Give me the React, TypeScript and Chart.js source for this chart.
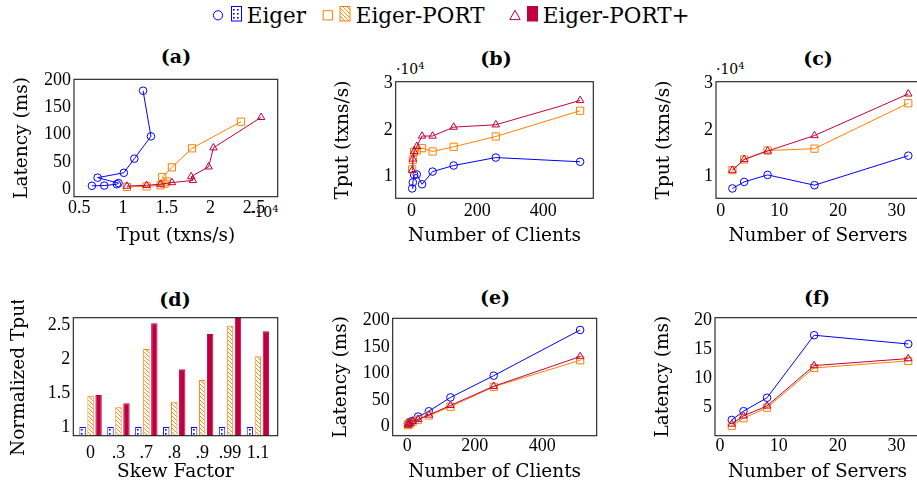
import React, { useEffect, useRef } from 'react';
import { Chart, registerables } from 'chart.js';
Chart.register(...registerables);

const FONT = '"Liberation Serif", "DejaVu Serif", serif';
const TFONT = '"DejaVu Serif", "Liberation Serif", serif';
const BLUE = '#0000ff';
const ORANGE = '#ff8000';
const PURPLE = '#bf0040';

// ---------- data ----------
const seriesNames = ['Eiger', 'Eiger-PORT', 'Eiger-PORT+'];
const clients = [2, 4, 8, 16, 32, 64, 128, 256, 512];
const servers = [2, 4, 8, 16, 32];
const skewFactors = ['0', '.3', '.7', '.8', '.9', '.99', '1.1'];

// (a) throughput (txns/s) vs latency (ms), one point per client count
const aEigerTput = [6450, 7860, 9300, 9500, 7100, 10100, 11300, 13200, 12300];
const aEigerLat = [6, 6.5, 9, 11, 21, 30, 56, 97, 181];
const aPortTput = [10450, 12700, 14300, 14750, 15000, 14500, 15600, 17900, 23500];
const aPortLat = [4, 5, 7, 10, 14, 22, 40, 75, 124];
const aPlusTput = [10450, 12700, 14300, 15600, 18000, 17800, 19800, 20350, 25800];
const aPlusLat = [5.5, 7, 9, 12, 16, 23, 41, 76, 132];

// (b) throughput vs number of clients
const bEiger = [7500, 8800, 10400, 10500, 8400, 11100, 12400, 14100, 13200];
const bPort = [11600, 13600, 15300, 15600, 16100, 15400, 16400, 18600, 24100];
const bPlus = [11400, 13800, 15400, 16500, 18700, 18700, 20600, 21100, 26300];

// (c) throughput vs number of servers
const cEiger = [7500, 8900, 10400, 8200, 14500];
const cPort = [11400, 13700, 15600, 16000, 25700];
const cPlus = [11400, 13700, 15500, 18800, 27700];

// (d) normalized throughput vs skew factor
const dEiger = [1, 1, 1, 1, 1, 1, 1];
const dPort = [1.46, 1.29, 2.15, 1.37, 1.69, 2.49, 2.04];
const dPlus = [1.47, 1.35, 2.53, 1.85, 2.37, 2.62, 2.41];

// (e) latency vs number of clients
const eEiger = [6, 6.5, 9, 11, 19, 29, 55, 96, 182];
const ePort = [3, 4, 6, 9, 13, 21, 37.5, 75, 125];
const ePlus = [3.5, 5, 7, 10, 14, 22, 40, 76, 132];

// (f) latency vs number of servers
const fEiger = [2.9, 4.4, 6.7, 17.4, 15.9];
const fPort = [1.9, 3.2, 5.0, 11.8, 13.0];
const fPlus = [2.2, 3.6, 5.3, 12.2, 13.4];

// ticks
const aXTicks = [5000, 10000, 15000, 20000, 25000];
const latTicks = [0, 50, 100, 150, 200];
const tputTicks = [10000, 20000, 30000];
const clientTicks = [0, 200, 400];
const serverTicks = [0, 10, 20, 30];
const normTicks = [1, 1.5, 2, 2.5];
const skewTicks = [0, 1, 2, 3, 4, 5, 6];
const fLatTicks = [5, 10, 15, 20];

// ---------- helpers ----------
const boxPlugin = {
  id: 'plotBox',
  afterDraw(chart: any) {
    const { ctx, chartArea: a } = chart;
    ctx.save();
    ctx.strokeStyle = '#1a1a1a';
    ctx.lineWidth = 1.1;
    ctx.strokeRect(a.left, a.top, a.right - a.left, a.bottom - a.top);
    ctx.restore();
  },
};

const per4 = (v: number) => String(Math.round((v / 10000) * 100) / 100);
const plain = (v: number) => String(v);

function axis(o: any) {
  return {
    type: 'linear',
    min: o.min,
    max: o.max,
    offset: false,
    grid: { display: false, drawTicks: false, offset: false },
    border: { display: false },
    ticks: {
      autoSkip: false,
      maxRotation: 0,
      color: '#000',
      padding: o.pad,
      font: { family: FONT, size: 18 },
      callback: (v: any) => o.fmt(v),
    },
    afterBuildTicks: (s: any) => {
      s.ticks = o.ticks.map((v: number) => ({ value: v }));
    },
    afterFit: (s: any) => {
      if (o.w !== undefined) s.width = o.w;
      if (o.h !== undefined) s.height = o.h;
    },
    title: {
      display: true,
      text: o.title,
      color: '#000',
      font: { family: TFONT, size: 18.5 },
      padding: o.titlePad,
    },
  };
}

function lineDs(label: string, xs: number[], ys: number[], color: string, style: string, radius: number, order: number) {
  return {
    label,
    data: xs.map((x, i) => ({ x, y: ys[i] })),
    borderColor: color,
    backgroundColor: 'rgba(0,0,0,0)',
    borderWidth: 1,
    pointStyle: style,
    pointRadius: radius,
    pointBorderWidth: 1,
    pointBorderColor: color,
    pointBackgroundColor: 'rgba(255,255,255,0)',
    tension: 0,
    fill: false,
    order,
  };
}

function baseOptions(g: any, x: any, y: any) {
  return {
    animation: false,
    responsive: true,
    maintainAspectRatio: false,
    events: [],
    layout: { padding: { top: g.padTop, right: g.padRight, left: 0, bottom: 0 } },
    plugins: { legend: { display: false }, tooltip: { enabled: false }, title: { display: false } },
    scales: { x, y },
  };
}

function dotsPattern(): any {
  const c = document.createElement('canvas');
  c.width = 4;
  c.height = 4;
  const g = c.getContext('2d')!;
  g.fillStyle = '#fff';
  g.fillRect(0, 0, 4, 4);
  g.fillStyle = BLUE;
  g.fillRect(1, 1, 1.6, 1.6);
  return g.createPattern(c, 'repeat');
}

function hatchPattern(): any {
  const c = document.createElement('canvas');
  c.width = 4;
  c.height = 4;
  const g = c.getContext('2d')!;
  g.fillStyle = '#fff';
  g.fillRect(0, 0, 4, 4);
  g.strokeStyle = ORANGE;
  g.lineWidth = 0.9;
  g.beginPath();
  g.moveTo(-1, -1);
  g.lineTo(5, 5);
  g.moveTo(-1, 3);
  g.lineTo(1, 5);
  g.moveTo(3, -1);
  g.lineTo(5, 1);
  g.stroke();
  return g.createPattern(c, 'repeat');
}

// ---------- panel geometry ----------
const GEO: any = {
  a: { left: 0, top: 60, width: 290, height: 195, yW: 74, xH: 58.3, padTop: 19.3, padRight: 12.3, yTitlePad: 11, xTitlePad: 7.5, xTickPad: 0.5 },
  b: { left: 320, top: 60, width: 290, height: 195, yW: 75.7, xH: 56.7, padTop: 21.7, padRight: 16.7, yTitlePad: 12, xTitlePad: 7.7, xTickPad: 2.6 },
  c: { left: 630, top: 60, width: 305, height: 195, yW: 86, xH: 56.7, padTop: 21.7, padRight: 15, yTitlePad: 23, xTitlePad: 7.7, xTickPad: 2.6 },
  d: { left: 0, top: 300, width: 290, height: 185, yW: 73.3, xH: 49.3, padTop: 17.7, padRight: 12.3, yTitlePad: 8, xTitlePad: 1.5, xTickPad: 6.5 },
  e: { left: 310, top: 300, width: 300, height: 185, yW: 82.7, xH: 49.3, padTop: 18.3, padRight: 13.3, yTitlePad: 20, xTitlePad: 1.5, xTickPad: 0 },
  f: { left: 630, top: 300, width: 305, height: 185, yW: 85, xH: 49.3, padTop: 17.7, padRight: 15, yTitlePad: 22, xTitlePad: 1.5, xTickPad: 0 },
};

function xAxis(g: any, o: any) {
  return axis({ ...o, h: g.xH, pad: g.xTickPad, titlePad: { top: 0, bottom: g.xTitlePad } });
}
function yAxis(g: any, o: any) {
  return axis({ ...o, w: g.yW, pad: 3, titlePad: { top: g.yTitlePad, bottom: 0 } });
}

function lineConfig(g: any, sets: number[][][], x: any, y: any) {
  const styles = [
    [BLUE, 'circle', 3.8, 2],
    [ORANGE, 'rect', 5.1, 1],
    [PURPLE, 'triangle', 4.3, 0],
  ];
  return {
    type: 'line',
    data: {
      datasets: sets.map((s, i) =>
        lineDs(seriesNames[i], s[0], s[1], styles[i][0] as string, styles[i][1] as string, styles[i][2] as number, styles[i][3] as number)
      ),
    },
    options: baseOptions(g, x, y),
    plugins: [boxPlugin],
  };
}

const makers: any = {
  a: () => {
    const g = GEO.a;
    return lineConfig(
      g,
      [
        [aEigerTput, aEigerLat],
        [aPortTput, aPortLat],
        [aPlusTput, aPlusLat],
      ],
      xAxis(g, { min: 4400, max: 27700, ticks: aXTicks, fmt: per4, title: 'Tput (txns/s)' }),
      yAxis(g, { min: -14, max: 202, ticks: latTicks, fmt: plain, title: 'Latency (ms)' })
    );
  },
  b: () => {
    const g = GEO.b;
    return lineConfig(
      g,
      [
        [clients, bEiger],
        [clients, bPort],
        [clients, bPlus],
      ],
      xAxis(g, { min: -48, max: 552, ticks: clientTicks, fmt: plain, title: 'Number of Clients' }),
      yAxis(g, { min: 5400, max: 30300, ticks: tputTicks, fmt: per4, title: 'Tput (txns/s)' })
    );
  },
  c: () => {
    const g = GEO.c;
    return lineConfig(
      g,
      [
        [servers, cEiger],
        [servers, cPort],
        [servers, cPlus],
      ],
      xAxis(g, { min: -0.8, max: 34, ticks: serverTicks, fmt: plain, title: 'Number of Servers' }),
      yAxis(g, { min: 5400, max: 30300, ticks: tputTicks, fmt: per4, title: 'Tput (txns/s)' })
    );
  },
  d: () => {
    const g = GEO.d;
    const mk = (label: string, vals: number[], bg: any, border: string) => ({
      label,
      data: vals.map((v, i) => ({ x: i, y: v })),
      backgroundColor: bg,
      borderColor: border,
      borderWidth: 1,
      categoryPercentage: 0.86,
      barPercentage: 0.8,
    });
    return {
      type: 'bar',
      data: {
        datasets: [
          mk(seriesNames[0], dEiger, dotsPattern(), BLUE),
          mk(seriesNames[1], dPort, hatchPattern(), ORANGE),
          mk(seriesNames[2], dPlus, PURPLE, PURPLE),
        ],
      },
      options: baseOptions(
        g,
        xAxis(g, { min: -0.62, max: 6.71, ticks: skewTicks, fmt: (v: number) => skewFactors[v] ?? '', title: 'Skew Factor' }),
        yAxis(g, { min: 0.87, max: 2.61, ticks: normTicks, fmt: plain, title: 'Normalized Tput' })
      ),
      plugins: [boxPlugin],
    };
  },
  e: () => {
    const g = GEO.e;
    return lineConfig(
      g,
      [
        [clients, eEiger],
        [clients, ePort],
        [clients, ePlus],
      ],
      xAxis(g, { min: -43, max: 561, ticks: clientTicks, fmt: plain, title: 'Number of Clients' }),
      yAxis(g, { min: -17, max: 204, ticks: latTicks, fmt: plain, title: 'Latency (ms)' })
    );
  },
  f: () => {
    const g = GEO.f;
    return lineConfig(
      g,
      [
        [servers, fEiger],
        [servers, fPort],
        [servers, fPlus],
      ],
      xAxis(g, { min: -0.85, max: 34, ticks: serverTicks, fmt: plain, title: 'Number of Servers' }),
      yAxis(g, { min: 0.2, max: 20.4, ticks: fLatTicks, fmt: plain, title: 'Latency (ms)' })
    );
  },
};

function Panel({ id }: { id: string }) {
  const ref = useRef<HTMLCanvasElement>(null);
  useEffect(() => {
    const chart = new Chart(ref.current as HTMLCanvasElement, makers[id]());
    return () => chart.destroy();
  }, [id]);
  const g = GEO[id];
  return (
    <div style={{ position: 'absolute', left: g.left, top: g.top, width: g.width, height: g.height }}>
      <canvas ref={ref} />
    </div>
  );
}

const panelTitles = [
  { t: '(a)', cx: 176, cy: 56 },
  { t: '(b)', cx: 496, cy: 58 },
  { t: '(c)', cx: 818, cy: 58 },
  { t: '(d)', cx: 175, cy: 299 },
  { t: '(e)', cx: 495, cy: 297 },
  { t: '(f)', cx: 817, cy: 297 },
];

const sciLabels = [
  { left: 250, top: 204 },
  { left: 396, top: 61 },
  { left: 716, top: 61 },
];

function Legend() {
  const txt = (s: string, left: number) => (
    <div style={{ position: 'absolute', left, top: 3, fontFamily: TFONT, fontSize: 21.5, lineHeight: '25px', whiteSpace: 'nowrap' }}>{s}</div>
  );
  return (
    <>
      <svg width={917} height={30} style={{ position: 'absolute', left: 0, top: 0 }}>
        <defs>
          <pattern id="lgDots" width="4" height="4" patternUnits="userSpaceOnUse">
            <rect width="4" height="4" fill="#fff" />
            <rect x="1" y="1" width="1.6" height="1.6" fill={BLUE} />
          </pattern>
          <pattern id="lgHatch" width="4" height="4" patternUnits="userSpaceOnUse">
            <rect width="4" height="4" fill="#fff" />
            <path d="M-1,-1 L5,5 M-1,3 L1,5 M3,-1 L5,1" stroke={ORANGE} strokeWidth="0.9" />
          </pattern>
        </defs>
        <circle cx={218} cy={15.3} r={4.6} fill="none" stroke={BLUE} strokeWidth={1} />
        <rect x={231.5} y={6.5} width={10} height={14.5} fill="url(#lgDots)" stroke={BLUE} strokeWidth={1} />
        <rect x={323.2} y={10.7} width={9.2} height={9.2} fill="none" stroke={ORANGE} strokeWidth={1} />
        <rect x={340} y={6.5} width={10} height={14.5} fill="url(#lgHatch)" stroke={ORANGE} strokeWidth={1} />
        <polygon points="515,10.3 520.2,19.6 509.8,19.6" fill="none" stroke={PURPLE} strokeWidth={1} />
        <rect x={527.5} y={6.5} width={10} height={14.5} fill={PURPLE} stroke={PURPLE} strokeWidth={1} />
      </svg>
      {txt(seriesNames[0], 246.7)}
      {txt(seriesNames[1], 355.7)}
      {txt(seriesNames[2], 542.7)}
    </>
  );
}

export default function App() {
  return (
    <div
      style={{
        position: 'absolute',
        left: 0,
        top: 0,
        width: 917,
        height: 485,
        overflow: 'hidden',
        background: '#fff',
        fontFamily: FONT,
        color: '#000',
      }}
    >
      <Legend />
      {panelTitles.map((p) => (
        <div
          key={p.t}
          style={{
            position: 'absolute',
            left: p.cx - 40,
            top: p.cy - 12,
            width: 80,
            textAlign: 'center',
            fontFamily: TFONT,
            fontSize: 19,
            lineHeight: '24px',
            fontWeight: 'bold',
          }}
        >
          {p.t}
        </div>
      ))}
      {sciLabels.map((s, i) => (
        <div key={i} style={{ position: 'absolute', left: s.left, top: s.top, fontFamily: TFONT, fontSize: 14, lineHeight: '16px', whiteSpace: 'nowrap' }}>
          ·10<span style={{ fontSize: 10, position: 'relative', top: -5 }}>4</span>
        </div>
      ))}
      {['a', 'b', 'c', 'd', 'e', 'f'].map((id) => (
        <Panel key={id} id={id} />
      ))}
    </div>
  );
}
